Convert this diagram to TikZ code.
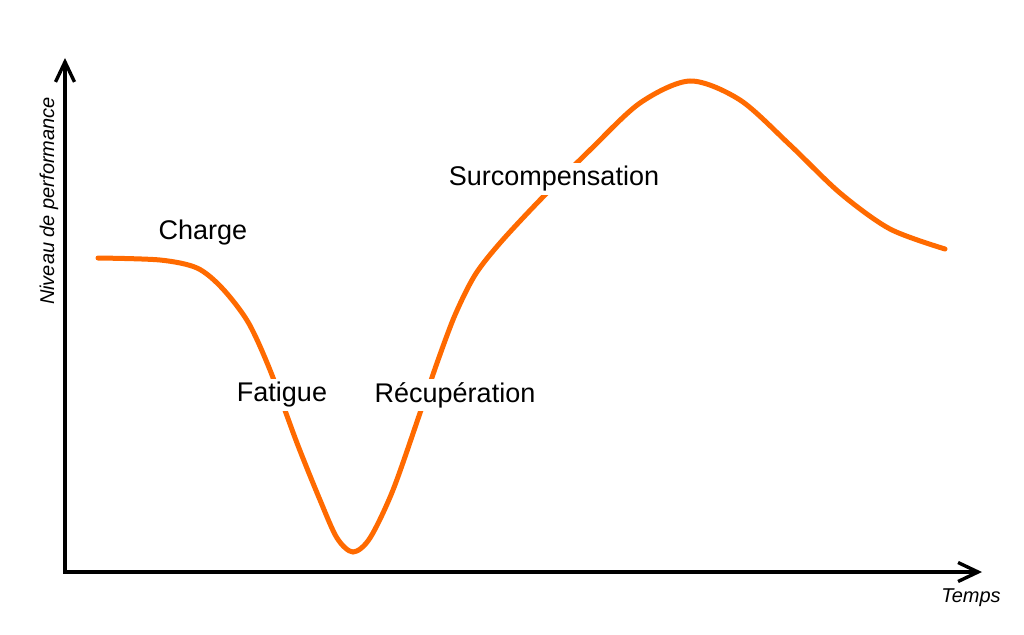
\documentclass[tikz,border=0pt]{standalone}
\usepackage{fontspec}
\setmainfont{Liberation Sans}
\usetikzlibrary{arrows.meta}
\definecolor{courbe}{RGB}{255,106,0}
\tikzset{
  axe/.style={line width=3.4pt, -{Straight Barb[length=20pt,width=19pt,line width=3.4pt]}},
  phase/.style={fill=white, inner sep=3pt, font=\fontsize{27}{31}\selectfont},
  titre/.style={font=\fontsize{20}{24}\selectfont\itshape, inner sep=0pt}
}
\begin{document}
\begin{tikzpicture}[x=1pt, y=-1pt]
\useasboundingbox[fill=white] (0,0) rectangle (1024,634);
\coordinate (O) at (65,572);
\coordinate (ytop) at (65,58);
\coordinate (xend) at (982,572);
\draw[axe] (O) -- (ytop);
\draw[axe] ([xshift=-2pt]O) -- (xend);
\node[titre, rotate=90] (niveau) at (49,201) {Niveau de performance};
\node[titre] (temps) at (971,598) {Temps};
\draw[courbe, line width=5pt, line cap=round] plot[smooth, tension=0.5] coordinates {
  (98,258) (160,260) (197,268) (222,288) (248,322) (270,370) (297,443) (320,500)
  (337,538) (353,552) (370,538) (393,490) (420,413) (437,363) (455,315) (475,275)
  (500,243) (540,200) (590,150) (640,103) (690,81) (740,100) (790,145) (840,193)
  (890,229) (945,249)};
\node[phase, fill=none] (charge) at (203,233) {Charge};
\node[phase] (fatigue) at (282,395) {Fatigue};
\node[phase] (recup) at (455,395) {Récupération};
\node[phase] (surcomp) at (554,179) {Surcompensation};
\end{tikzpicture}
\end{document}
